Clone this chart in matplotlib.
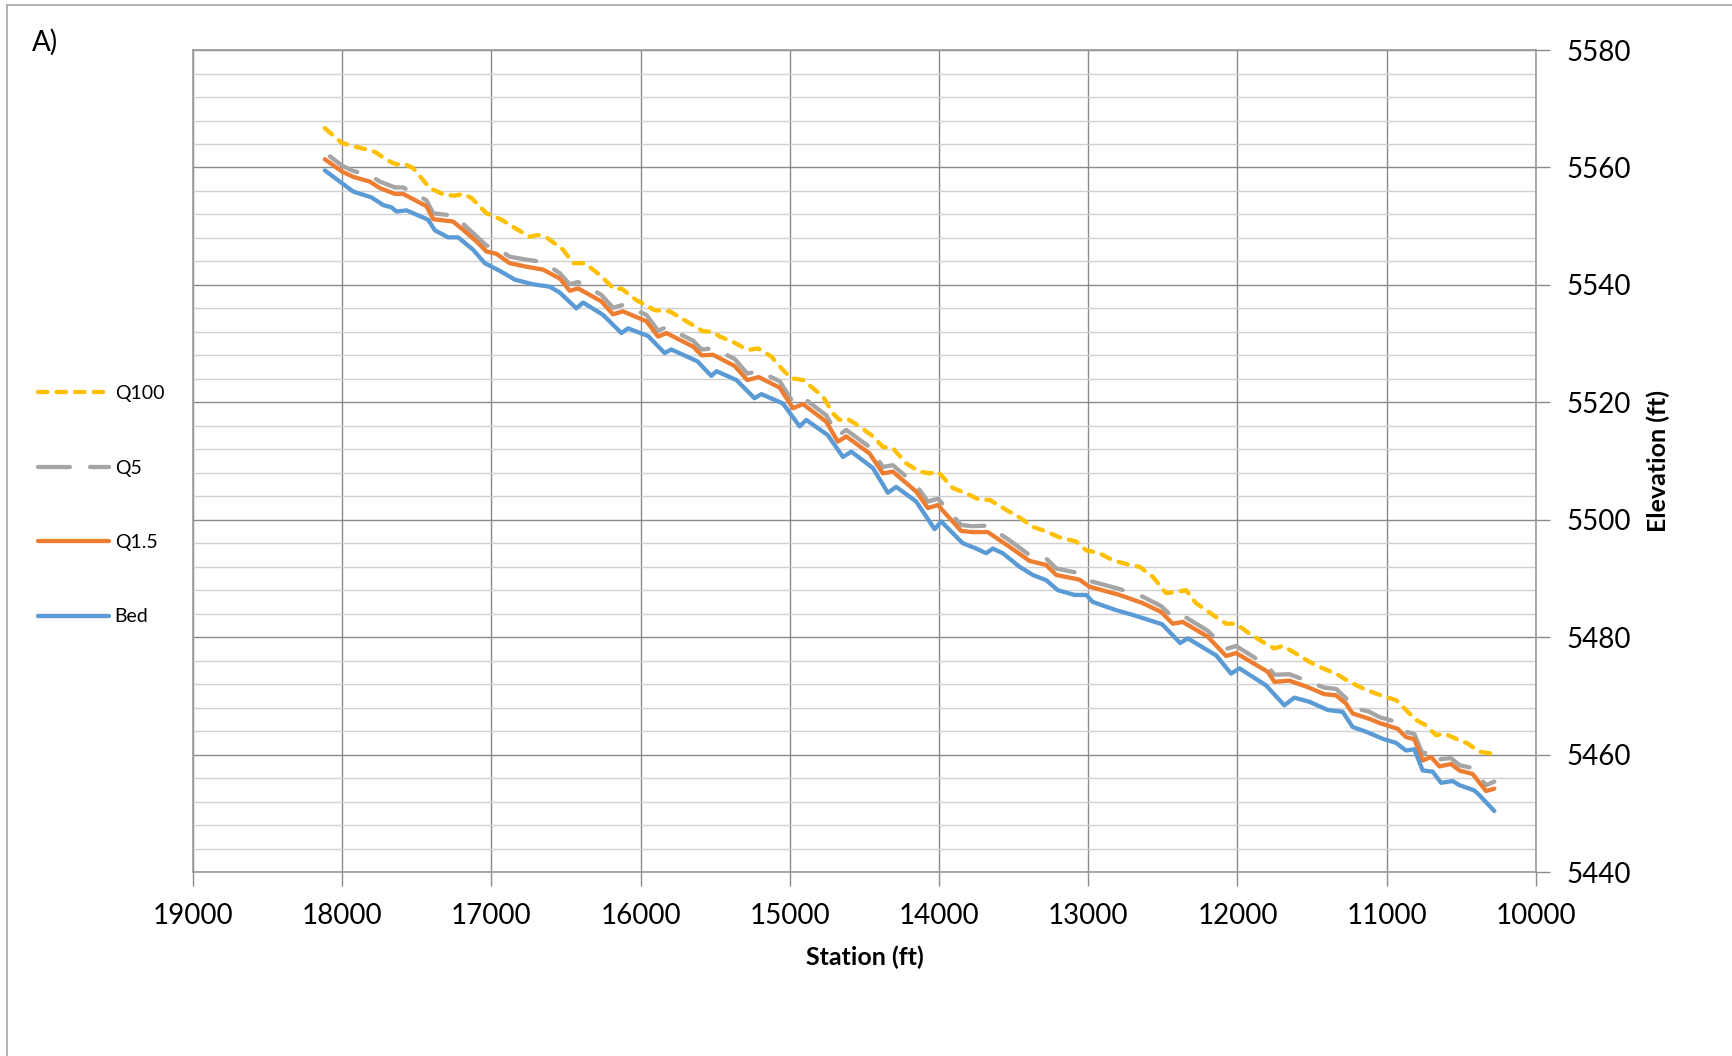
import matplotlib
matplotlib.use("Agg")
import matplotlib.pyplot as plt
from matplotlib.lines import Line2D
from matplotlib.ticker import MultipleLocator

plt.rcParams["font.family"] = ["Lato", "DejaVu Sans"]

# --- data (station ft, elevation ft) ---
q100_station = [18116, 18004, 17926, 17803, 17770, 17703, 17636, 17591, 17525, 17413,
                17312, 17245, 17190, 17133, 17033, 16932, 16843, 16743, 16687, 16631,
                16520, 16453, 16374, 16274, 16173, 16129, 16028, 15906, 15805, 15693,
                15582, 15515, 15470, 15381, 15280, 15214, 15124, 15046, 14990, 14912,
                14778, 14711, 14667, 14622, 14532, 14443, 14376, 14310, 14220, 14131,
                14064, 14008, 13908, 13818, 13729, 13662, 13551, 13461, 13372, 13282,
                13193, 13081, 13014, 12925, 12836, 12724, 12657, 12568, 12479, 12412,
                12345, 12278, 12166, 12076, 12009, 11920, 11831, 11753, 11697, 11607,
                11518, 11429, 11340, 11250, 11161, 11072, 11005, 10938, 10871, 10804,
                10737, 10670, 10614, 10536, 10458, 10379, 10279]
q100_elev = [5566.7, 5564.2, 5563.6, 5562.9, 5562.5, 5561.3, 5560.5, 5560.7, 5559.9, 5556.5,
             5555.3, 5555.2, 5555.5, 5554.8, 5552.2, 5551.1, 5549.7, 5548.2, 5548.5, 5548.1,
             5546.0, 5543.7, 5543.7, 5541.7, 5539.2, 5539.4, 5537.4, 5535.7, 5535.5, 5533.8,
             5532.1, 5532.0, 5531.2, 5530.3, 5528.9, 5529.2, 5527.8, 5525.5, 5524.1, 5523.8,
             5521.0, 5518.1, 5517.0, 5517.3, 5515.9, 5514.2, 5512.4, 5512.2, 5509.6, 5508.2,
             5507.9, 5508.2, 5505.4, 5504.5, 5503.4, 5503.4, 5501.7, 5500.4, 5498.8, 5498.0,
             5497.0, 5496.3, 5494.8, 5494.3, 5493.1, 5492.3, 5492.0, 5490.3, 5487.5, 5487.7,
             5488.0, 5485.8, 5483.8, 5482.3, 5482.3, 5480.6, 5479.2, 5478.1, 5478.5, 5477.2,
             5475.8, 5474.7, 5473.8, 5472.4, 5471.3, 5470.4, 5469.8, 5469.3, 5467.6, 5465.9,
             5465.0, 5463.3, 5463.6, 5462.7, 5461.9, 5460.5, 5460.1]

q5_station = [18082, 18000, 17926, 17815, 17748, 17647, 17591, 17435, 17390, 17257,
              17190, 17100, 17033, 16966, 16877, 16765, 16654, 16542, 16475, 16419,
              16263, 16185, 16118, 15961, 15883, 15827, 15649, 15590, 15515, 15370,
              15285, 15208, 15068, 14979, 14912, 14756, 14678, 14622, 14466, 14376,
              14310, 14153, 14075, 14008, 13852, 13774, 13673, 13528, 13394, 13282,
              13215, 13059, 12992, 12791, 12635, 12512, 12434, 12367, 12200, 12076,
              12009, 11797, 11753, 11652, 11530, 11418, 11340, 11273, 11228, 11117,
              11050, 10927, 10871, 10815, 10759, 10703, 10647, 10569, 10513, 10424,
              10335, 10279]
q5_elev = [5561.9, 5560.3, 5559.4, 5558.7, 5557.6, 5556.6, 5556.6, 5554.4, 5552.2, 5551.8,
           5550.4, 5548.3, 5546.7, 5546.3, 5544.8, 5544.3, 5543.9, 5542.0, 5540.1, 5540.5,
           5538.3, 5536.1, 5536.6, 5534.9, 5532.2, 5532.8, 5530.5, 5529.0, 5529.2, 5527.4,
           5524.9, 5525.3, 5523.6, 5520.0, 5520.8, 5517.8, 5514.3, 5515.3, 5512.4, 5509.0,
           5509.3, 5505.9, 5503.1, 5503.6, 5499.1, 5498.9, 5499.0, 5496.5, 5494.0, 5493.4,
           5491.7, 5490.9, 5489.6, 5488.2, 5486.9, 5485.3, 5483.4, 5483.7, 5481.1, 5478.0,
           5478.5, 5475.1, 5473.6, 5473.7, 5472.5, 5471.4, 5471.2, 5469.6, 5468.0, 5467.3,
           5466.4, 5465.5, 5463.9, 5463.5, 5460.1, 5460.8, 5459.2, 5459.4, 5458.2, 5457.7,
           5454.8, 5455.4]

q15_station = [18116, 18000, 17926, 17815, 17748, 17647, 17591, 17435, 17390, 17257,
               17190, 17100, 17033, 16966, 16877, 16765, 16654, 16542, 16475, 16419,
               16263, 16185, 16118, 15961, 15883, 15827, 15649, 15590, 15515, 15370,
               15285, 15208, 15068, 14979, 14912, 14756, 14678, 14622, 14466, 14376,
               14310, 14153, 14075, 14008, 13852, 13774, 13673, 13528, 13394, 13282,
               13215, 13059, 12992, 12791, 12635, 12512, 12434, 12367, 12200, 12076,
               12009, 11797, 11753, 11652, 11530, 11418, 11340, 11273, 11228, 11117,
               11050, 10927, 10871, 10815, 10759, 10703, 10647, 10569, 10513, 10424,
               10335, 10279]
q15_elev = [5561.4, 5559.3, 5558.4, 5557.6, 5556.5, 5555.5, 5555.5, 5553.4, 5551.2, 5550.8,
            5549.4, 5547.4, 5545.7, 5545.3, 5543.7, 5543.1, 5542.6, 5541.1, 5539.0, 5539.4,
            5537.2, 5535.0, 5535.5, 5533.8, 5531.2, 5531.8, 5529.5, 5528.0, 5528.1, 5526.2,
            5523.8, 5524.3, 5522.5, 5519.0, 5519.7, 5516.7, 5513.3, 5514.2, 5511.3, 5507.9,
            5508.2, 5504.8, 5502.0, 5502.5, 5498.1, 5497.9, 5497.9, 5495.4, 5493.0, 5492.3,
            5490.6, 5489.8, 5488.6, 5487.2, 5485.8, 5484.3, 5482.3, 5482.6, 5480.1, 5476.8,
            5477.3, 5474.1, 5472.4, 5472.6, 5471.5, 5470.3, 5470.1, 5468.7, 5467.0, 5466.1,
            5465.4, 5464.4, 5463.0, 5462.6, 5459.0, 5459.6, 5458.0, 5458.4, 5457.3, 5456.7,
            5453.8, 5454.2]

bed_station = [18116, 18000, 17926, 17803, 17725, 17669, 17636, 17569, 17424, 17379,
               17290, 17223, 17123, 17044, 16944, 16843, 16721, 16609, 16542, 16430,
               16386, 16252, 16129, 16084, 15950, 15839, 15794, 15620, 15526, 15492,
               15358, 15236, 15191, 15046, 14934, 14890, 14745, 14644, 14588, 14443,
               14343, 14287, 14153, 14030, 13985, 13841, 13751, 13684, 13640, 13573,
               13461, 13372, 13282, 13204, 13093, 13014, 12970, 12813, 12702, 12505,
               12384, 12334, 12143, 12043, 11987, 11809, 11686, 11619, 11518, 11396,
               11295, 11228, 11138, 11027, 10937, 10871, 10815, 10759, 10692, 10636,
               10558, 10513, 10413, 10379, 10279]
bed_elev = [5559.5, 5557.3, 5555.9, 5554.9, 5553.6, 5553.2, 5552.5, 5552.7, 5551.1, 5549.3,
            5548.1, 5548.1, 5546.0, 5543.7, 5542.4, 5540.9, 5540.1, 5539.7, 5538.7, 5536.0,
            5537.0, 5534.9, 5531.8, 5532.6, 5531.3, 5528.4, 5529.0, 5527.0, 5524.5, 5525.3,
            5523.8, 5520.7, 5521.4, 5519.8, 5515.9, 5517.0, 5514.4, 5510.7, 5511.6, 5508.8,
            5504.6, 5505.6, 5503.1, 5498.4, 5499.7, 5496.0, 5495.1, 5494.3, 5495.1, 5494.3,
            5492.0, 5490.6, 5489.7, 5488.0, 5487.2, 5487.2, 5486.0, 5484.6, 5483.8, 5482.2,
            5479.0, 5479.8, 5476.9, 5473.8, 5474.7, 5471.8, 5468.4, 5469.7, 5469.0, 5467.6,
            5467.3, 5464.7, 5463.9, 5462.7, 5462.0, 5460.7, 5460.9, 5457.3, 5457.1, 5455.2,
            5455.5, 5454.8, 5453.9, 5453.1, 5450.4]

x_ticks = [19000, 18000, 17000, 16000, 15000, 14000, 13000, 12000, 11000, 10000]
y_ticks = [5440, 5460, 5480, 5500, 5520, 5540, 5560, 5580]

fig = plt.figure(figsize=(17.32, 10.56), dpi=100)
ax = fig.add_axes([0.1114, 0.1742, 0.7754, 0.7784])

lw = 3.1
common = dict(lw=lw, solid_capstyle="round", solid_joinstyle="round",
              dash_capstyle="round", dash_joinstyle="round")
l100, = ax.plot(q100_station, q100_elev, color="#FFC000", dashes=(2.2, 2.1), label="Q100", **common)
l5, = ax.plot(q5_station, q5_elev, color="#A5A5A5", dashes=(7.4, 4.7), label="Q5", **common)
l15, = ax.plot(q15_station, q15_elev, color="#ED7D31", label="Q1.5", **common)
lbed, = ax.plot(bed_station, bed_elev, color="#5B9BD5", label="Bed", **common)

ax.set_xlim(19000, 10000)
ax.set_ylim(5440, 5580)
ax.set_xticks(x_ticks)
ax.set_yticks(y_ticks)
ax.yaxis.set_minor_locator(MultipleLocator(4))
ax.yaxis.tick_right()
ax.yaxis.set_label_position("right")
ax.tick_params(axis="both", which="major", labelsize=20, length=10, width=1,
               color="#8c8c8c", pad=12, labelcolor="black")
ax.tick_params(axis="y", which="minor", length=0)

ax.grid(True, which="major", axis="both", color="#8a8a8a", lw=1)
ax.grid(True, which="minor", axis="y", color="#d0d0d0", lw=1)
ax.set_axisbelow(True)
for side in ["left", "right", "bottom", "top"]:
    ax.spines[side].set_color("#9a9a9a")
    ax.spines[side].set_linewidth(1.2)

ax.set_xlabel("Station (ft)", fontsize=18, fontweight="bold", labelpad=12)
ax.set_ylabel("Elevation (ft)", fontsize=18, fontweight="bold", labelpad=11)

fig.legend(handles=[l100, l5, l15, lbed], loc="center left",
           bbox_to_anchor=(0.0219, 0.5215), frameon=False, fontsize=14,
           handlelength=3.65, handletextpad=0.3, labelspacing=2.95,
           borderpad=0, borderaxespad=0)

fig.text(32 / 1732, 1 - 42 / 1056, "A)", fontsize=20, va="center", ha="left")

# outer frame (cropped at right and bottom in the reference)
fig.add_artist(Line2D([7 / 1732, 1.0], [1 - 5 / 1056] * 2, color="#a6a6a6", lw=1.2,
                      transform=fig.transFigure))
fig.add_artist(Line2D([7 / 1732] * 2, [0.0, 1 - 5 / 1056], color="#a6a6a6", lw=1.2,
                      transform=fig.transFigure))

fig.savefig("out.png", dpi=100)
